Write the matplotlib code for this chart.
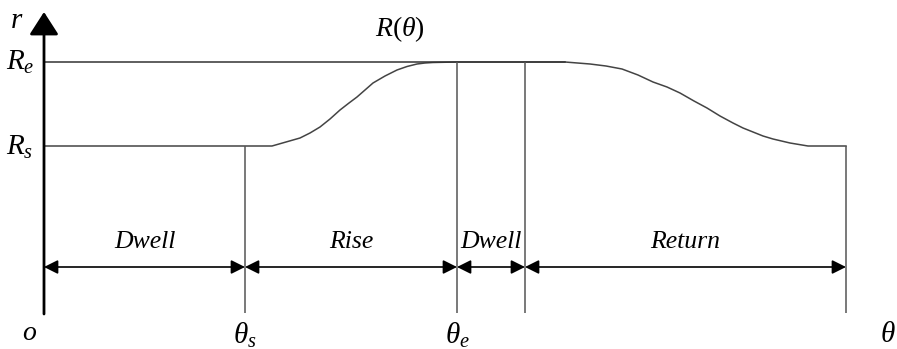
import numpy as np
import matplotlib
import matplotlib.pyplot as plt

matplotlib.rcParams['font.family'] = 'Liberation Serif'
matplotlib.rcParams['mathtext.fontset'] = 'custom'
matplotlib.rcParams['mathtext.rm'] = 'Liberation Serif'
matplotlib.rcParams['mathtext.it'] = 'Liberation Serif:italic'

# key angles: origin, theta_s, theta_e, end of dwell, end of return
theta_key = [0, 201, 413, 481, 802]
R_s = 167
R_e = 251

rise_theta = [0, 201, 228, 242, 256, 266, 276, 286, 296, 305, 313, 321, 329,
              341, 353, 363, 373, 381, 389, 413]
rise_r = [167, 167, 167, 171, 175, 180, 186, 194, 203, 210, 216, 223, 230,
          237, 243, 246.5, 249, 250, 250.5, 251]
return_theta = [481, 521, 546, 562, 578, 594, 609, 623, 636, 650, 663, 676,
                689, 699, 709, 719, 729, 746, 764, 802]
return_r = [251, 251, 249, 247, 244, 238, 231, 226, 220, 212, 205, 197,
            190, 185, 181, 177, 174, 170, 167, 167]

seg_labels = ['Dwell', 'Rise', 'Dwell', 'Return']
vline_tops = [R_s, R_e, R_e, R_s]

fig = plt.figure(figsize=(8.97, 3.49), dpi=100)
ax = fig.add_axes([0, 0, 1, 1])
ax.set_xlim(-44, 853)
ax.set_ylim(-36, 313)
ax.axis('off')

# cam curve
ax.plot(rise_theta + return_theta, rise_r + return_r, color='#444444', lw=1.1)
ax.plot([0, return_theta[1]], [R_e, R_e], color='#333333', lw=1.1)

# verticals
ax.vlines(theta_key[1:], 0, vline_tops, colors='#555555', lw=1.1)

# axes with arrows
ax.annotate('', xy=(0, 301), xytext=(0, -1),
            arrowprops=dict(arrowstyle='-|>,head_length=0.7,head_width=0.45',
                            mutation_scale=20, lw=2, color='k',
                            shrinkA=0, shrinkB=0))
ax.annotate('', xy=(860, 0), xytext=(-1, 0),
            arrowprops=dict(arrowstyle='-|>,head_length=0.7,head_width=0.45',
                            mutation_scale=20, lw=2, color='k',
                            shrinkA=0, shrinkB=0))

# dimension arrows
for a, b, lab in zip(theta_key[:-1], theta_key[1:], seg_labels):
    ax.annotate('', xy=(b, 46), xytext=(a, 46),
                arrowprops=dict(arrowstyle='<|-|>,head_length=0.6,head_width=0.3',
                                mutation_scale=14, lw=1.2, color='k',
                                shrinkA=0, shrinkB=0))
    ax.text((a + b) / 2, 71, lab, fontsize=18.5, style='italic',
            ha='center', va='center')

# labels
ax.text(-27, 292, r'$r$', fontsize=21, ha='center', va='center')
ax.text(-24, 251, r'$R_{e}$', fontsize=21, ha='center', va='center')
ax.text(-24, 166, r'$R_{s}$', fontsize=21, ha='center', va='center')
ax.text(356, 284, r'$R(\theta)$', fontsize=20, ha='center', va='center')
ax.text(-14, -21, r'$o$', fontsize=20, ha='center', va='center')
ax.text(theta_key[1], -22, r'$\theta_{s}$', fontsize=21, ha='center', va='center')
ax.text(theta_key[2], -22, r'$\theta_{e}$', fontsize=21, ha='center', va='center')
ax.text(844, -22, r'$\theta$', fontsize=21, ha='center', va='center')

plt.savefig('out.png', dpi=100)
